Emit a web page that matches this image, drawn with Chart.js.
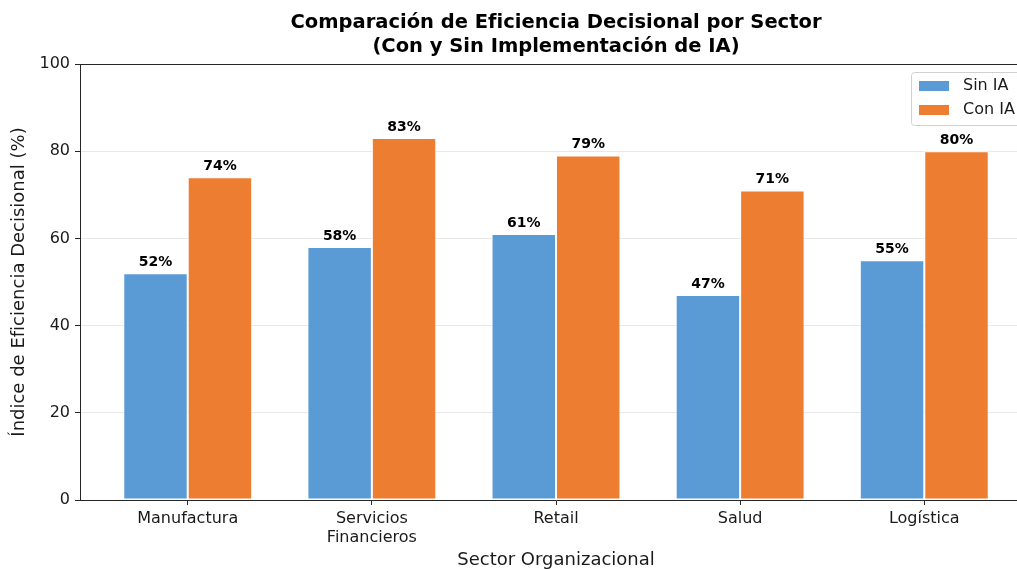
<!DOCTYPE html>
<html lang="es">
<head>
<meta charset="utf-8">
<title>Eficiencia Decisional por Sector</title>
<script src="https://cdn.jsdelivr.net/npm/chart.js@4.4.1/dist/chart.umd.min.js"></script>
<style>
  html, body { margin: 0; padding: 0; background: #fff; overflow: hidden; }
  #wrap { width: 1017px; height: 569px; overflow: hidden; position: relative; }
  canvas { position: absolute; left: 0; top: 0; }
</style>
</head>
<body>
<div id="wrap">
  <canvas id="chart" width="1040" height="580"></canvas>
</div>
<script>
// ==================== DATOS ====================
const sectores = ['Manufactura', 'Servicios\nFinancieros', 'Retail', 'Salud', 'Logística'];
const sinIA = [52, 58, 61, 47, 55];
const conIA = [74, 83, 79, 71, 80];
const yTicks = [0, 20, 40, 60, 80, 100];

const FONT = "'DejaVu Sans', sans-serif";
const AZUL = '#5B9BD5';
const NARANJA = '#ED7D31';
const EJE = '#262626';

// Título, marco superior/derecho, etiquetas y leyenda
const extrasPlugin = {
  id: 'extras',
  afterDraw(chart) {
    const { ctx, chartArea } = chart;
    ctx.save();

    // marco superior y derecho (estilo matplotlib)
    ctx.strokeStyle = EJE;
    ctx.lineWidth = 1;
    ctx.beginPath();
    ctx.moveTo(chartArea.left, chartArea.top + 0.5);
    ctx.lineTo(chartArea.right, chartArea.top + 0.5);
    ctx.moveTo(chartArea.right - 0.5, chartArea.top);
    ctx.lineTo(chartArea.right - 0.5, chartArea.bottom);
    ctx.stroke();

    // título
    const cx = (chartArea.left + chartArea.right) / 2;
    ctx.fillStyle = '#000';
    ctx.textAlign = 'center';
    ctx.textBaseline = 'middle';
    ctx.font = `bold 19.5px ${FONT}`;
    ctx.fillText('Comparación de Eficiencia Decisional por Sector', cx, 23);
    ctx.fillText('(Con y Sin Implementación de IA)', cx, 47);

    // valores sobre las barras
    ctx.font = `bold 14px ${FONT}`;
    ctx.textBaseline = 'bottom';
    chart.data.datasets.forEach((ds, di) => {
      chart.getDatasetMeta(di).data.forEach((bar, i) => {
        ctx.fillText(ds.data[i].y + '%', bar.x, bar.y - 4);
      });
    });

    // leyenda con recuadro
    const lx = 911, ly = 72;
    ctx.fillStyle = 'rgba(255,255,255,0.85)';
    ctx.strokeStyle = '#d0d0d0';
    ctx.beginPath();
    ctx.roundRect(lx + 0.5, ly + 0.5, 140, 53, 3);
    ctx.fill();
    ctx.stroke();
    ctx.font = `16px ${FONT}`;
    ctx.textAlign = 'left';
    ctx.textBaseline = 'middle';
    chart.data.datasets.forEach((ds, di) => {
      const yy = 86 + di * 24;
      ctx.fillStyle = ds.backgroundColor;
      ctx.fillRect(919, yy - 5, 30, 10);
      ctx.fillStyle = '#1a1a1a';
      ctx.fillText(ds.label, 963, yy);
    });

    ctx.restore();
  }
};

new Chart(document.getElementById('chart').getContext('2d'), {
  type: 'bar',
  data: {
    datasets: [
      {
        label: 'Sin IA',
        data: sinIA.map((v, i) => ({ x: i, y: v })),
        backgroundColor: AZUL,
        borderColor: '#fff',
        borderWidth: 1,
        borderSkipped: false
      },
      {
        label: 'Con IA',
        data: conIA.map((v, i) => ({ x: i, y: v })),
        backgroundColor: NARANJA,
        borderColor: '#fff',
        borderWidth: 1,
        borderSkipped: false
      }
    ]
  },
  options: {
    responsive: false,
    animation: false,
    categoryPercentage: 0.7,
    barPercentage: 1.0,
    layout: { padding: { top: 64, right: 8, left: 0, bottom: 0 } },
    plugins: {
      legend: { display: false },
      title: { display: false },
      tooltip: { enabled: false }
    },
    scales: {
      x: {
        type: 'linear',
        offset: false,
        min: -0.585,
        max: 4.585,
        afterBuildTicks: axis => { axis.ticks = sectores.map((_, i) => ({ value: i })); },
        afterFit: axis => { axis.height = 80; },
        grid: { offset: false, drawOnChartArea: false, drawTicks: true, tickLength: 5, tickColor: EJE },
        border: { color: EJE, width: 1 },
        ticks: {
          padding: 5,
          maxRotation: 0,
          autoSkip: false,
          color: '#1a1a1a',
          font: { family: FONT, size: 16, lineHeight: 1.15 },
          callback: v => sectores[v] ? sectores[v].split('\n') : ''
        },
        title: {
          display: true,
          text: 'Sector Organizacional',
          color: '#1a1a1a',
          font: { family: FONT, size: 18 },
          padding: { top: 0, bottom: 9 }
        }
      },
      y: {
        min: 0,
        max: 100,
        afterBuildTicks: axis => { axis.ticks = yTicks.map(v => ({ value: v })); },
        afterFit: axis => { axis.width = 80; },
        grid: { color: 'rgba(180,180,180,0.3)', tickColor: EJE, tickLength: 5 },
        border: { color: EJE, width: 1 },
        ticks: {
          padding: 5,
          color: '#1a1a1a',
          font: { family: FONT, size: 16 }
        },
        title: {
          display: true,
          text: 'Índice de Eficiencia Decisional (%)',
          color: '#1a1a1a',
          font: { family: FONT, size: 18 },
          padding: { top: 9, bottom: 9 }
        }
      }
    }
  },
  plugins: [extrasPlugin]
});
</script>
</body>
</html>
